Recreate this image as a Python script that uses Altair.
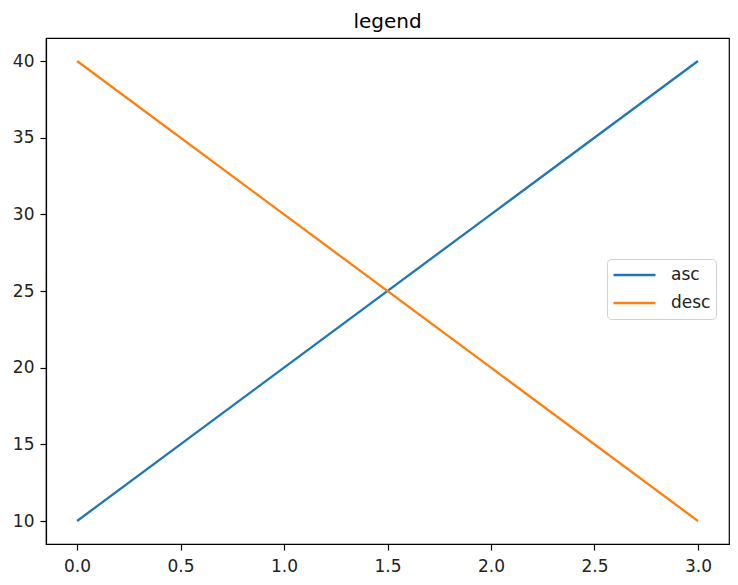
import altair as alt
import pandas as pd

x_vals = [0, 1, 2, 3]
asc_vals = [10, 20, 30, 40]
desc_vals = [40, 30, 20, 10]
series_names = ["asc", "desc"]
series_colors = ["#1f77b4", "#ff7f0e"]
x_ticks = [0.0, 0.5, 1.0, 1.5, 2.0, 2.5, 3.0]
y_ticks = [10, 15, 20, 25, 30, 35, 40]

df = pd.DataFrame({
    "x": x_vals + x_vals,
    "y": asc_vals + desc_vals,
    "series": ["asc"] * len(x_vals) + ["desc"] * len(x_vals),
})

FONT = "DejaVu Sans"

axis_common = dict(
    grid=False, title=None, domainColor="#000", domainWidth=1.2,
    tickColor="#000", tickWidth=1.2, tickSize=6,
    labelFont=FONT, labelFontSize=17, labelColor="#222",
)

chart = alt.Chart(df).mark_line(strokeWidth=2.3).encode(
    x=alt.X("x:Q", scale=alt.Scale(domain=[-0.15, 3.15], nice=False, zero=False),
            axis=alt.Axis(values=x_ticks, format=".1f", labelPadding=8, **axis_common)),
    y=alt.Y("y:Q", scale=alt.Scale(domain=[8.5, 41.5], nice=False, zero=False),
            axis=alt.Axis(values=y_ticks, format="d", labelPadding=6, **axis_common)),
    color=alt.Color("series:N",
                    scale=alt.Scale(domain=series_names, range=series_colors),
                    legend=alt.Legend(
                        title=None, orient="none", legendX=561, legendY=221,
                        symbolType="stroke", symbolSize=1764, symbolStrokeWidth=2.3,
                        labelFont=FONT, labelFontSize=17, labelColor="#222",
                        labelOffset=14, rowPadding=6, padding=5, clipHeight=22,
                        fillColor="rgba(255,255,255,0.8)", strokeColor="#d0d0d0",
                        cornerRadius=4,
                    )),
).properties(
    width=683, height=506,
    title=alt.TitleParams("legend", font=FONT, fontSize=20, fontWeight="normal",
                          color="#000", anchor="middle", baseline="bottom", offset=6, dy=20),
    autosize=alt.AutoSizeParams(type="none"),
    padding={"left": 38, "top": 30, "right": 1, "bottom": 33},
    background="white",
).configure_view(stroke="#000", strokeWidth=1.2)

chart.save("out.html", embed_options={"renderer": "svg", "actions": False})
